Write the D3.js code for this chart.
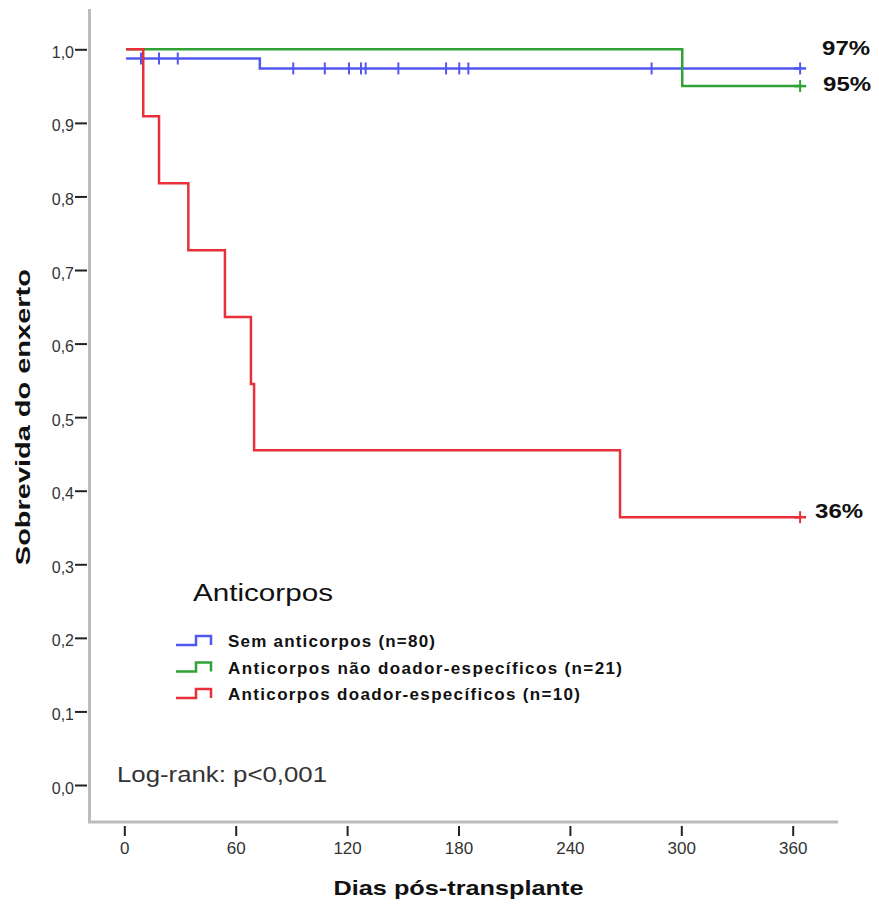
<!DOCTYPE html>
<html>
<head>
<meta charset="utf-8">
<script src="https://cdn.jsdelivr.net/npm/d3@7/dist/d3.min.js"></script>
<style>
  html, body { margin: 0; padding: 0; background: #fff; }
  svg { display: block; }
  text { font-family: "Liberation Sans", Arial, sans-serif; }
</style>
</head>
<body>
<svg id="chart" width="879" height="908"></svg>
<script>
// Kaplan-Meier graft survival by antibody group (days after transplant)
const groups = ["Sem anticorpos (n=80)", "Anticorpos não doador-específicos (n=21)", "Anticorpos doador-específicos (n=10)"];
const groupColors = ["#5157f0", "#2fa236", "#e8303a"];

// step curves: times where survival changes, and the survival from that time on
const blueTimes = [1, 73];
const blueSurvival = [0.9875, 0.974];
const blueCensored = [9, 18.7, 28.8, 91, 108, 121, 127.5, 130, 147.6, 173.3, 180.4, 185.3, 284, 364];

const greenTimes = [1, 300.5];
const greenSurvival = [1.0, 0.95];
const greenCensored = [364];

const redTimes = [1, 10.2, 18.7, 34.5, 54.2, 68.2, 69.9, 267];
const redSurvival = [1.0, 0.909, 0.818, 0.727, 0.636, 0.545, 0.455, 0.364];
const redCensored = [364];

const endTime = 364;
const finalLabels = ["97%", "95%", "36%"];

const xTicks = [0, 60, 120, 180, 240, 300, 360];
const yTicks = [0, 0.1, 0.2, 0.3, 0.4, 0.5, 0.6, 0.7, 0.8, 0.9, 1.0];

const series = [
  { times: blueTimes, surv: blueSurvival, cens: blueCensored },
  { times: greenTimes, surv: greenSurvival, cens: greenCensored },
  { times: redTimes, surv: redSurvival, cens: redCensored }
];

const svg = d3.select("#chart");
const x = d3.scaleLinear().domain([0, 360]).range([124.3, 792.7]);
const y = d3.scaleLinear().domain([0, 1]).range([785, 49.3]);

// frame lines
const frame = svg.append("g").attr("stroke", "#bcbcbc").attr("stroke-width", 3).attr("fill", "none");
frame.append("line").attr("x1", 89.5).attr("x2", 89.5).attr("y1", 9).attr("y2", 822);
frame.append("line").attr("x1", 88).attr("x2", 838).attr("y1", 822).attr("y2", 822);

// axes
const fmt = d => d.toFixed(1).replace(".", ",");
const yAxis = svg.append("g").attr("transform", "translate(87,0)")
  .call(d3.axisLeft(y).tickValues(yTicks).tickFormat(fmt).tickSize(12).tickPadding(1));
yAxis.select(".domain").remove();
yAxis.selectAll(".tick line").attr("stroke", "#222").attr("stroke-width", 2);
yAxis.selectAll(".tick text").attr("fill", "#333").attr("font-size", 16)
  .attr("font-family", "Liberation Sans, Arial, sans-serif").attr("dy", "0.5em");

const xAxis = svg.append("g").attr("transform", "translate(0,826)")
  .call(d3.axisBottom(x).tickValues(xTicks).tickFormat(d3.format("d")).tickSize(10).tickPadding(6));
xAxis.select(".domain").remove();
xAxis.selectAll(".tick line").attr("stroke", "#222").attr("stroke-width", 2);
xAxis.selectAll(".tick text").attr("fill", "#333").attr("font-size", 17)
  .attr("font-family", "Liberation Sans, Arial, sans-serif");

// curves
const line = d3.line().x(d => x(d[0])).y(d => y(d[1])).curve(d3.curveStepAfter);
const plot = svg.append("g");
series.forEach((s, i) => {
  const pts = s.times.map((t, k) => [t, s.surv[k]]);
  pts.push([endTime, s.surv[s.surv.length - 1]]);
  plot.append("path").attr("d", line(pts)).attr("fill", "none")
    .attr("stroke", groupColors[i]).attr("stroke-width", 2.5);
});

// censor marks
const survAt = (s, t) => {
  let v = s.surv[0];
  s.times.forEach((tt, k) => { if (t >= tt) v = s.surv[k]; });
  return v;
};
series.forEach((s, i) => {
  s.cens.forEach(t => {
    const cx = x(t), cy = y(survAt(s, t));
    plot.append("line").attr("x1", cx).attr("x2", cx).attr("y1", cy - 6).attr("y2", cy + 6)
      .attr("stroke", groupColors[i]).attr("stroke-width", 2);
    if (t === endTime) {
      plot.append("line").attr("x1", cx - 6).attr("x2", cx + 6).attr("y1", cy).attr("y2", cy)
        .attr("stroke", groupColors[i]).attr("stroke-width", 2.5);
    }
  });
});

// final survival labels, placed beside each curve's end
const labelOffsets = [[22, -13], [23, 5], [15, 1]];
series.forEach((s, i) => {
  const v = s.surv[s.surv.length - 1];
  svg.append("text").attr("x", x(endTime) + labelOffsets[i][0]).attr("y", y(v) + labelOffsets[i][1])
    .attr("font-size", 20).attr("font-weight", "bold").attr("fill", "#111")
    .attr("textLength", 48).attr("lengthAdjust", "spacingAndGlyphs")
    .text(finalLabels[i]);
});

// legend
svg.append("text").attr("x", 193).attr("y", 601).attr("font-size", 23).attr("fill", "#111")
  .attr("textLength", 140).attr("lengthAdjust", "spacingAndGlyphs").text("Anticorpos");
const legendEnds = [435, 622, 580];
groups.forEach((g, i) => {
  const base = 645 + i * 26.5;
  const sym = [[176, base], [196, base], [196, base - 9], [211, base - 9], [211, base]];
  svg.append("path").attr("d", d3.line()(sym)).attr("fill", "none")
    .attr("stroke", groupColors[i]).attr("stroke-width", 2.5);
  svg.append("text").attr("x", 228).attr("y", base + 2).attr("font-size", 17)
    .attr("font-weight", "bold").attr("fill", "#111")
    .attr("textLength", legendEnds[i] - 228).attr("lengthAdjust", "spacing")
    .text(g);
});

// test annotation
svg.append("text").attr("x", 117).attr("y", 782).attr("font-size", 22).attr("fill", "#333")
  .attr("textLength", 210).attr("lengthAdjust", "spacingAndGlyphs").text("Log-rank: p<0,001");

// axis titles
svg.append("text").attr("x", x(180)).attr("y", 895).attr("text-anchor", "middle")
  .attr("font-size", 21).attr("font-weight", "bold").attr("fill", "#111")
  .attr("textLength", 250).attr("lengthAdjust", "spacingAndGlyphs").text("Dias pós-transplante");
svg.append("text").attr("transform", `translate(30,${y(0.5)}) rotate(-90)`).attr("text-anchor", "middle")
  .attr("font-size", 21).attr("font-weight", "bold").attr("fill", "#111")
  .attr("textLength", 296).attr("lengthAdjust", "spacingAndGlyphs").text("Sobrevida do enxerto");
</script>
</body>
</html>
